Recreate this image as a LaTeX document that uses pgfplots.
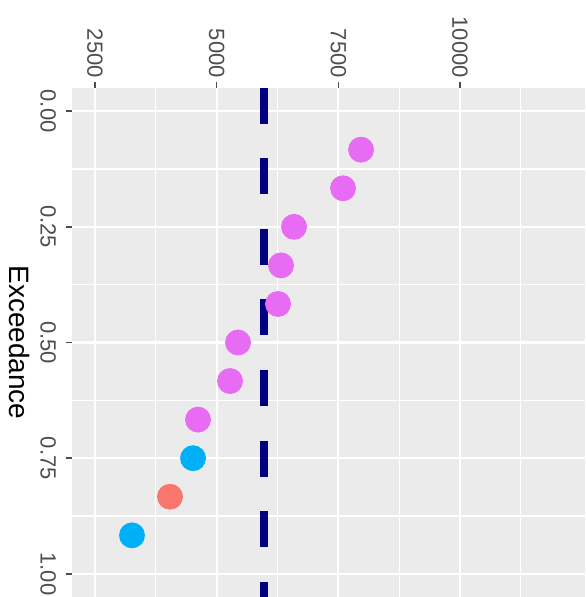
\documentclass[border=0pt]{standalone}
\usepackage{pgfplots}
\pgfplotsset{compat=1.18}
\usepackage{fontspec}
\setmainfont{Liberation Sans}
\usetikzlibrary{calc}
\definecolor{panel}{HTML}{EBEBEB}
\definecolor{tickgray}{HTML}{4D4D4D}
\definecolor{pinkp}{HTML}{E76BF3}
\definecolor{bluep}{HTML}{00B0F6}
\definecolor{redp}{HTML}{F8766D}
\definecolor{navyl}{HTML}{000080}
\begin{document}
\begin{tikzpicture}
\begin{axis}[
  scale only axis, width=256.5pt, height=254.5pt,
  xmin=2027.4, xmax=12567.7, ymin=-0.05, ymax=1.05, y dir=reverse,
  axis background/.style={fill=panel},
  axis line style={draw=none},
  xtick={2500,5000,7500,10000}, minor xtick={3750,6250,8750,11250},
  ytick={0,0.25,0.5,0.75,1}, minor ytick={0.125,0.375,0.625,0.875},
  xtick pos=top, xticklabel pos=top,
  ytick pos=left, yticklabel pos=left,
  tick align=outside, major tick length=3pt, minor tick length=0pt,
  major tick style={tickgray, line width=0.8pt},
  grid=both,
  major grid style={white, line width=1.1pt},
  minor grid style={white, line width=0.55pt},
  xticklabels={2500,5000,7500,10000},
  yticklabels={0.00,0.25,0.50,0.75,1.00},
  xticklabel shift=-1.5pt,
  yticklabel shift=1.5pt,
  xticklabel style={rotate=-90, anchor=east, font=\fontsize{11}{13}\selectfont, text=tickgray},
  yticklabel style={rotate=-90, anchor=north, font=\fontsize{11}{13}\selectfont, text=tickgray},
  ylabel={Exceedance},
  ylabel shift=-1.5pt,
  ylabel style={rotate=180, font=\fontsize{14}{17}\selectfont, text=black},
]
\addplot[only marks, mark=*, mark size=6.25pt, mark options={draw=pinkp, fill=pinkp}] coordinates {
  (7966,0.0833) (7596,0.1667) (6589,0.25) (6322,0.3333) (6260,0.4167) (5438,0.5) (5274,0.5833) (4616,0.6667)
};
\addplot[only marks, mark=*, mark size=6.25pt, mark options={draw=bluep, fill=bluep}] coordinates {
  (4514,0.75) (3260,0.9167)
};
\addplot[only marks, mark=*, mark size=6.25pt, mark options={draw=redp, fill=redp}] coordinates {
  (4041,0.8333)
};
\addplot[navyl, line width=4pt, dash pattern=on 18pt off 17.25pt] coordinates {(5975,-0.05) (5975,1.05)};
\end{axis}
\pgfresetboundingbox
\path[use as bounding box] ($(current axis.south west)+(-36pt,0)$) rectangle ($(current axis.north east)+(0,44pt)$);
\end{tikzpicture}
\end{document}
